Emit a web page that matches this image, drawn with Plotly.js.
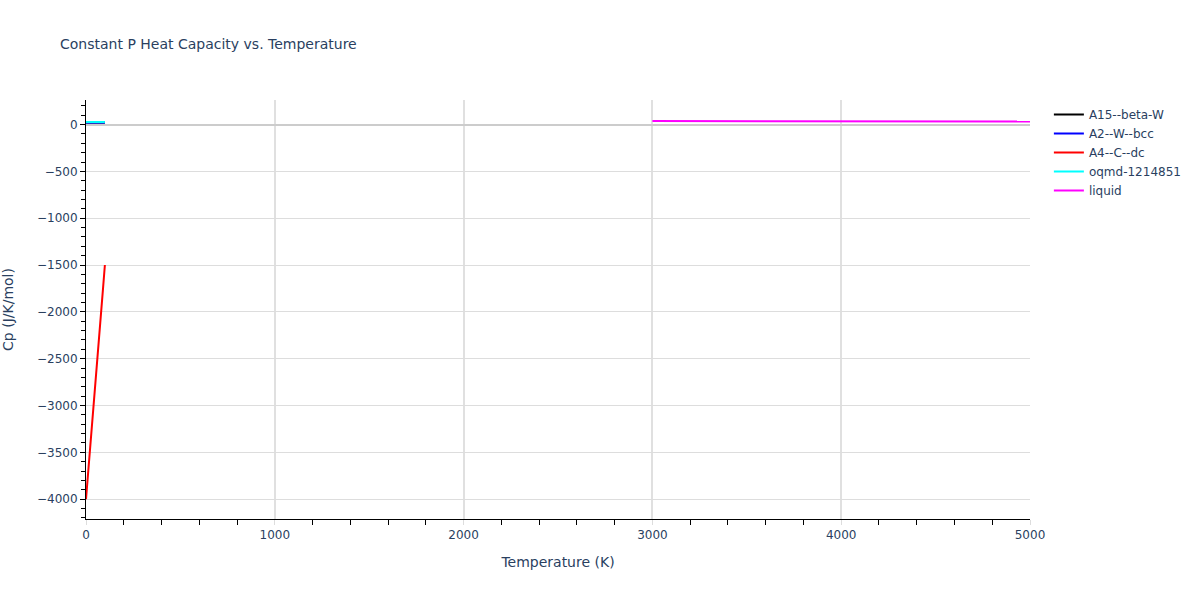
<!DOCTYPE html>
<html>
<head>
<meta charset="utf-8">
<script src="https://cdn.plot.ly/plotly-3.0.1.min.js"></script>
<style>html,body{margin:0;padding:0;}#chart{width:1200px;height:600px;}</style>
</head>
<body>
<div id="chart"></div>
<script>
// Data
const lowT = [0, 10, 20, 30, 40, 50, 60, 70, 80, 90, 100];
const cpA4 = [-4000, -3760, -3510, -3260, -3010, -2760, -2510, -2260, -2010, -1755, -1500];
const cpOqmd = [27, 27, 27, 27, 27, 27, 27, 27, 27, 27, 27];
const cpA2 = [21, 21, 21, 21, 21, 21, 21, 21, 21, 21, 21];
const cpA15 = [21, 21, 21, 21, 21, 21, 21, 21, 21, 21, 21];
const liquidT = [3000, 3100, 3200, 3300, 3400, 3500, 3600, 3700, 3800, 3900, 4000, 4100, 4200, 4300, 4400, 4500, 4600, 4700, 4800, 4900, 5000];
const cpLiquid = [37, 37, 40, 39, 38, 36, 40, 39, 40, 36, 38, 38, 37, 36, 35, 37, 36, 35, 34, 33, 32];

const traces = [
  {name: 'A15--beta-W', x: lowT, y: cpA15, mode: 'lines', line: {color: 'black', width: 2}},
  {name: 'A2--W--bcc', x: lowT, y: cpA2, mode: 'lines', line: {color: 'blue', width: 2}},
  {name: 'A4--C--dc', x: lowT, y: cpA4, mode: 'lines', line: {color: 'red', width: 2}},
  {name: 'oqmd-1214851', x: lowT, y: cpOqmd, mode: 'lines', line: {color: 'cyan', width: 2}},
  {name: 'liquid', x: liquidT, y: cpLiquid, mode: 'lines', line: {color: 'magenta', width: 2}}
];

const layout = {
  width: 1200, height: 600,
  paper_bgcolor: 'white', plot_bgcolor: 'white',
  font: {family: '"DejaVu Sans", verdana, arial, sans-serif', color: '#2a3f5f', size: 12},
  title: {text: 'Constant P Heat Capacity vs. Temperature', x: 0.05, xanchor: 'left', y: 0.934, font: {size: 14}},
  margin: {l: 86, r: 170, t: 100, b: 81},
  showlegend: true,
  legend: {x: 1.02, y: 1, xanchor: 'left', yanchor: 'top', font: {size: 12}},
  xaxis: {
    title: {text: 'Temperature (K)', font: {size: 14}, standoff: 15},
    range: [0, 5000],
    showline: true, linecolor: 'black', linewidth: 1,
    ticks: 'outside', tickcolor: '#dddddd', ticklen: 5,
    minor: {ticks: 'outside', tickcolor: 'black', ticklen: 5, dtick: 200, showgrid: false},
    dtick: 1000,
    showgrid: true, gridcolor: '#e0e0e0', gridwidth: 2,
    zeroline: false
  },
  yaxis: {
    title: {text: 'Cp (J/K/mol)', font: {size: 14}, standoff: 20},
    range: [-4212, 262],
    showline: true, linecolor: 'black', linewidth: 1,
    ticks: 'outside', tickcolor: 'black', ticklen: 5,
    minor: {ticks: 'outside', tickcolor: 'black', ticklen: 4, dtick: 100, showgrid: false},
    dtick: 500,
    showgrid: true, gridcolor: '#dddddd', gridwidth: 1,
    zeroline: true, zerolinecolor: '#cccccc', zerolinewidth: 2
  }
};

Plotly.newPlot('chart', traces, layout, {displayModeBar: false});
</script>
</body>
</html>
